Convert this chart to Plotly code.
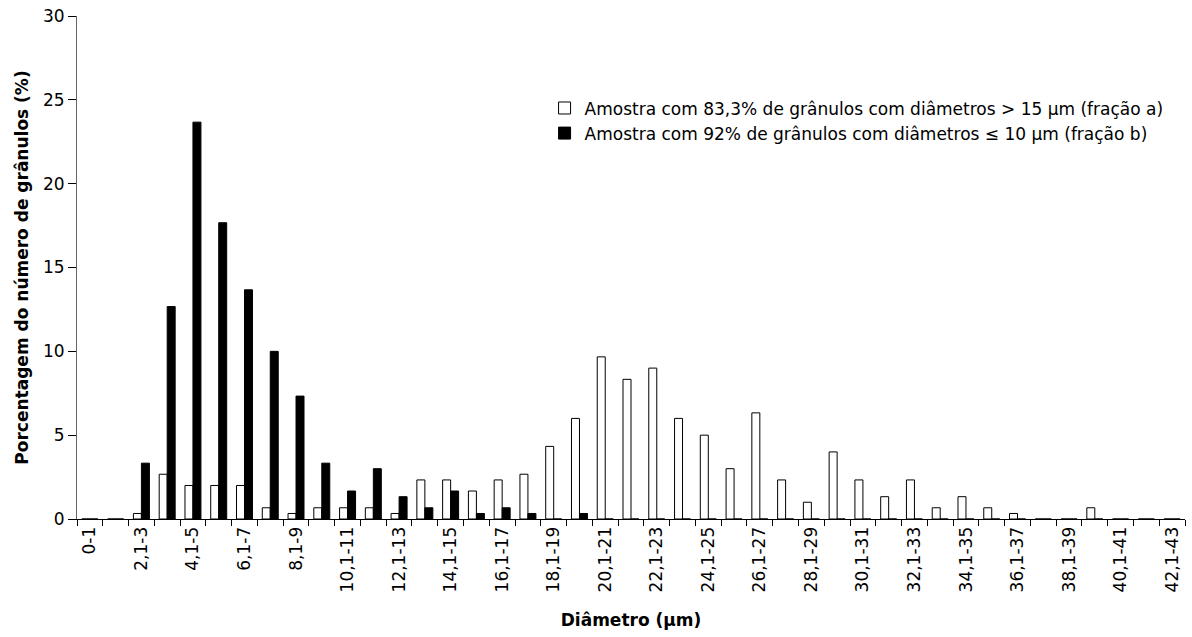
import plotly.graph_objects as go

categories = ["0-1", "1,1-2", "2,1-3", "3,1-4", "4,1-5", "5,1-6", "6,1-7", "7,1-8",
              "8,1-9", "9,1-10", "10,1-11", "11,1-12", "12,1-13", "13,1-14", "14,1-15",
              "15,1-16", "16,1-17", "17,1-18", "18,1-19", "19,1-20", "20,1-21", "21,1-22",
              "22,1-23", "23,1-24", "24,1-25", "25,1-26", "26,1-27", "27,1-28", "28,1-29",
              "29,1-30", "30,1-31", "31,1-32", "32,1-33", "33,1-34", "34,1-35", "35,1-36",
              "36,1-37", "37,1-38", "38,1-39", "39,1-40", "40,1-41", "41,1-42", "42,1-43"]

frac_a = [0, 0, 0.33, 2.67, 2, 2, 2, 0.67, 0.33, 0.67, 0.67, 0.67, 0.33, 2.33, 2.33,
          1.67, 2.33, 2.67, 4.33, 6, 9.67, 8.33, 9, 6, 5, 3, 6.33, 2.33, 1, 4, 2.33,
          1.33, 2.33, 0.67, 1.33, 0.67, 0.33, 0, 0, 0.67, 0, 0, 0]

frac_b = [0, 0, 3.33, 12.67, 23.67, 17.67, 13.67, 10, 7.33, 3.33, 1.67, 3, 1.33, 0.67,
          1.67, 0.33, 0.67, 0.33, 0, 0.33, 0, 0, 0, 0, 0, 0, 0, 0, 0, 0, 0, 0, 0, 0,
          0, 0, 0, 0, 0, 0, 0, 0, 0]

name_a = "Amostra com 83,3% de grânulos com diâmetros > 15 µm (fração a)"
name_b = "Amostra com 92% de grânulos com diâmetros ≤ 10 µm (fração b)"

tick_text = [c if i % 2 == 0 else "" for i, c in enumerate(categories)]

FONT = "DejaVu Sans, Liberation Sans, Arial, sans-serif"
FS = 17

fig = go.Figure()
fig.add_trace(go.Bar(x=categories, y=frac_a, name=name_a,
                     marker=dict(color="white", line=dict(color="black", width=1))))
fig.add_trace(go.Bar(x=categories, y=frac_b, name=name_b,
                     marker=dict(color="black", line=dict(color="black", width=1))))

fig.update_layout(
    width=1192, height=637,
    margin=dict(l=77, r=7, t=16, b=118),
    paper_bgcolor="white", plot_bgcolor="white",
    font=dict(family=FONT, size=FS, color="black"),
    barmode="group", bargap=0.38, bargroupgap=0,
    legend=dict(x=0.422, y=0.852, xanchor="left", yanchor="top",
                bgcolor="rgba(0,0,0,0)", font=dict(size=FS), itemwidth=30,
                tracegroupgap=0),
    xaxis=dict(type="category", tickmode="array", tickvals=categories, ticktext=tick_text,
               tickangle=-90, ticks="outside", ticklen=6, tickcolor="black",
               tickson="boundaries", showline=True, linecolor="black", linewidth=1,
               showgrid=False, tickfont=dict(size=FS),
               title=dict(text="<b>Diâmetro (µm)</b>", font=dict(size=FS), standoff=22)),
    yaxis=dict(range=[0, 30], dtick=5, ticks="outside", ticklen=8, tickcolor="black",
               showline=True, linecolor="#666", linewidth=1, showgrid=False,
               zeroline=False, tickfont=dict(size=FS),
               title=dict(text="<b>Porcentagem do número de grânulos (%)</b>",
                          font=dict(size=FS), standoff=10)),
)

fig.write_html("out.html")
